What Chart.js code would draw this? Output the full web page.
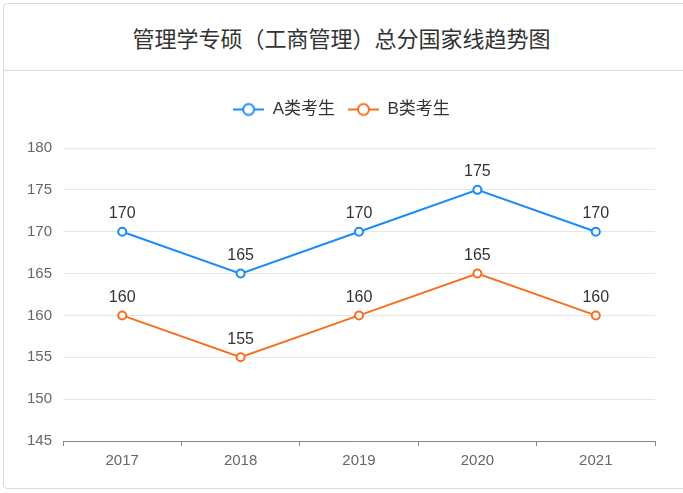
<!DOCTYPE html>
<html>
<head>
<meta charset="utf-8">
<script src="https://cdn.jsdelivr.net/npm/chart.js@4"></script>
<style>
  html, body { margin: 0; padding: 0; background: #fff; }
  body { width: 683px; height: 493px; position: relative; overflow: hidden;
         font-family: "Liberation Sans", "Noto Sans CJK SC", sans-serif; }
  .card { position: absolute; left: 3px; top: 3px; width: 700px; height: 486px;
          border: 1px solid #dcdcdc; border-radius: 4px; box-sizing: border-box; }
  .title { position: absolute; left: 0; top: 20px; width: 683px; text-align: center;
           font-family: "Noto Sans CJK SC", sans-serif; font-size: 22px; color: #333; line-height: 34px; }
  .sep { position: absolute; left: 3px; top: 70px; width: 700px; height: 1px; background: #dcdcdc; }
  #wrap { position: absolute; left: 0; top: 0; width: 683px; height: 493px; }
</style>
</head>
<body>
<div class="card"></div>
<div class="title">管理学专硕（工商管理）总分国家线趋势图</div>
<div class="sep"></div>
<div id="wrap"><canvas id="c" width="683" height="493"></canvas></div>
<script>
// 数据
const years   = ['2017', '2018', '2019', '2020', '2021'];
const scoreA  = [170, 165, 170, 175, 170];
const scoreB  = [160, 155, 160, 165, 160];
const seriesNames = ['A类考生', 'B类考生'];
const yTicks  = { min: 145, max: 180, step: 5 };

const BLUE = '#1a8cf5';
const ORANGE = '#f5701e';

// 图例图标：线 + 空心圆
function legendIcon(color) {
    const cv = document.createElement('canvas');
    cv.width = 31; cv.height = 16;
    const g = cv.getContext('2d');
    g.strokeStyle = color; g.lineWidth = 2;
    g.beginPath(); g.moveTo(0, 8); g.lineTo(31, 8); g.stroke();
    g.fillStyle = '#fff';
    g.beginPath(); g.arc(15.5, 8, 5.5, 0, Math.PI * 2); g.fill(); g.stroke();
    return cv;
}

// 数值标签
const valueLabels = {
    id: 'valueLabels',
    afterDatasetsDraw(chart) {
        const ctx = chart.ctx;
        ctx.save();
        ctx.font = '16px "Liberation Sans", sans-serif';
        ctx.fillStyle = '#333';
        ctx.textAlign = 'center';
        ctx.textBaseline = 'bottom';
        chart.data.datasets.forEach((ds, i) => {
            chart.getDatasetMeta(i).data.forEach((pt, j) => {
                ctx.fillText(ds.data[j], pt.x, pt.y - 10);
            });
        });
        ctx.restore();
    }
};

// 图例与绘图区之间留空
const legendGap = {
    id: 'legendGap',
    beforeInit(chart) {
        const fit = chart.legend.fit;
        chart.legend.fit = function () {
            fit.call(this);
            this.height += 20;
        };
    }
};

Chart.defaults.font.family = '"Liberation Sans", "Noto Sans CJK SC", sans-serif';

const datasets = [
    { label: seriesNames[0], data: scoreA, color: BLUE },
    { label: seriesNames[1], data: scoreB, color: ORANGE }
].map(d => ({
    label: d.label,
    data: d.data,
    borderColor: d.color,
    backgroundColor: '#fff',
    borderWidth: 2,
    tension: 0,
    pointStyle: 'circle',
    pointRadius: 4,
    pointBorderWidth: 2,
    pointBackgroundColor: '#fff',
    pointBorderColor: d.color,
    pointHoverRadius: 4,
    _legendImg: legendIcon(d.color)
}));

new Chart(document.getElementById('c'), {
    type: 'line',
    data: { labels: years, datasets },
    options: {
        responsive: false,
        animation: false,
        layout: { padding: { top: 88, right: 28, left: 28, bottom: 22 } },
        plugins: {
            legend: {
                position: 'top',
                labels: {
                    usePointStyle: true,
                    pointStyleWidth: 31,
                    padding: 13,
                    color: '#333',
                    font: { size: 17, family: '"Liberation Sans", "Noto Sans CJK SC", sans-serif' },
                    generateLabels(chart) {
                        return chart.data.datasets.map((ds, i) => ({
                            text: ds.label,
                            pointStyle: ds._legendImg,
                            fillStyle: '#fff',
                            strokeStyle: ds.borderColor,
                            lineWidth: 0,
                            fontColor: '#333',
                            hidden: false,
                            datasetIndex: i
                        }));
                    }
                }
            },
            tooltip: { enabled: false }
        },
        scales: {
            x: {
                offset: true,
                grid: { offset: true, drawOnChartArea: false, drawTicks: true, tickLength: 5, color: '#888' },
                border: { display: true, color: '#888' },
                ticks: { color: '#666', font: { size: 15 }, padding: 6 },
                afterFit: s => { s.height = 30; }
            },
            y: {
                min: yTicks.min, max: yTicks.max,
                grid: { color: '#e6e6e6', drawTicks: false },
                border: { display: false },
                ticks: { stepSize: yTicks.step, color: '#666', font: { size: 15 }, padding: 11 },
                afterFit: s => { s.width = 35; }
            }
        }
    },
    plugins: [valueLabels, legendGap]
});
</script>
</body>
</html>
